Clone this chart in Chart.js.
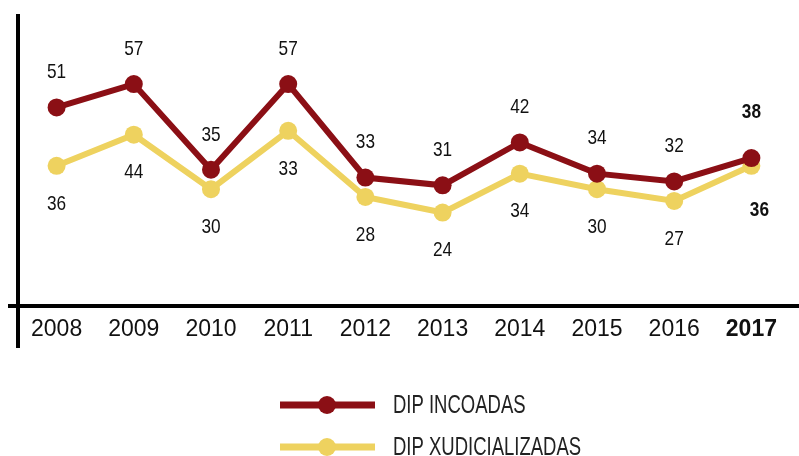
<!DOCTYPE html>
<html>
<head>
<meta charset="utf-8">
<script src="https://cdn.jsdelivr.net/npm/chart.js@4/dist/chart.umd.min.js"></script>
<style>
  html, body { margin: 0; padding: 0; background: #fff; }
  #wrap { width: 799px; height: 456px; position: relative; }
</style>
</head>
<body>
<div id="wrap"><canvas id="chart"></canvas></div>
<script>
  // datos
  var years = ['2008', '2009', '2010', '2011', '2012', '2013', '2014', '2015', '2016', '2017'];
  var incoadas = [51, 57, 35, 57, 33, 31, 42, 34, 32, 38];
  // o punto de 2011 está debuxado arredor de 45 aínda que a etiqueta diga 33
  var xudicializadas = [36, 44, 30, 45, 28, 24, 34, 30, 27, 36];
  var incoadasText = ['51', '57', '35', '57', '33', '31', '42', '34', '32', '38'];
  var xudicializadasText = ['36', '44', '30', '33', '28', '24', '34', '30', '27', '36'];
  var seriesNames = ['DIP INCOADAS', 'DIP XUDICIALIZADAS'];

  var RED = '#8B0F15';
  var YELLOW = '#EED25F';
  var SANS = "'Liberation Sans', Arial, sans-serif";

  // texto estreito: Liberation Sans comprimida en horizontal
  function narrowText(ctx, txt, x, y, font, squeeze) {
    ctx.save();
    ctx.font = font;
    ctx.translate(x, y);
    ctx.scale(squeeze, 1);
    ctx.fillText(txt, 0, 0);
    ctx.restore();
  }

  // etiquetas de valor enriba / embaixo dos puntos
  var valueLabels = {
    id: 'valueLabels',
    afterDatasetsDraw: function (chart) {
      var ctx = chart.ctx;
      var texts = [incoadasText, xudicializadasText];
      var offs = [-35, 38];
      ctx.save();
      ctx.fillStyle = '#111';
      ctx.textAlign = 'center';
      ctx.textBaseline = 'middle';
      chart.data.datasets.forEach(function (ds, di) {
        chart.getDatasetMeta(di).data.forEach(function (pt, i) {
          var last = i === years.length - 1;
          var font = (last ? 'bold ' : '') + '21px ' + SANS;
          var dy = last ? (di === 0 ? -46 : 44) : offs[di];
          var dx = last && di === 1 ? 8 : 0;
          narrowText(ctx, texts[di][i], pt.x + dx, pt.y + dy, font, 0.82);
        });
      });
      ctx.restore();
    }
  };

  // eixos negros e lenda debuxados a man
  var axesAndLegend = {
    id: 'axesAndLegend',
    afterDraw: function (chart) {
      var ctx = chart.ctx;
      var a = chart.chartArea;
      ctx.save();
      ctx.fillStyle = '#000';
      ctx.fillRect(a.left - 2, a.top, 4, a.bottom - a.top + 42);
      ctx.fillRect(a.left - 10, a.bottom - 2, chart.width - a.left + 10, 4);

      chart.data.datasets.forEach(function (ds, i) {
        var y = 405 + i * 42;
        ctx.strokeStyle = ds.borderColor;
        ctx.lineWidth = 7;
        ctx.beginPath();
        ctx.moveTo(280, y);
        ctx.lineTo(375, y);
        ctx.stroke();
        ctx.fillStyle = ds.borderColor;
        ctx.beginPath();
        ctx.arc(327, y, 9, 0, Math.PI * 2);
        ctx.fill();
        ctx.fillStyle = '#222';
        ctx.textAlign = 'left';
        ctx.textBaseline = 'middle';
        narrowText(ctx, ds.label, 393, y + 1, '25px ' + SANS, 0.74);
      });
      ctx.restore();
    }
  };

  new Chart(document.getElementById('chart'), {
    type: 'line',
    data: {
      labels: years,
      datasets: [{
        label: seriesNames[0],
        data: incoadas,
        borderColor: RED,
        backgroundColor: RED,
        borderWidth: 6,
        pointRadius: 9,
        pointBorderWidth: 0,
        pointBackgroundColor: RED,
        tension: 0
      }, {
        label: seriesNames[1],
        data: xudicializadas,
        borderColor: YELLOW,
        backgroundColor: YELLOW,
        borderWidth: 6,
        pointRadius: 9,
        pointBorderWidth: 0,
        pointBackgroundColor: YELLOW,
        tension: 0
      }]
    },
    options: {
      responsive: true,
      maintainAspectRatio: false,
      animation: false,
      layout: { padding: { left: 18, right: 8, top: 14, bottom: 0 } },
      plugins: {
        legend: { display: false },
        tooltip: { enabled: false }
      },
      scales: {
        x: {
          offset: true,
          grid: { display: false, drawTicks: false },
          border: { display: false },
          ticks: {
            padding: 10,
            color: '#111',
            maxRotation: 0,
            font: function (c) {
              return c.index === years.length - 1
                ? { family: SANS, size: 23, weight: 'bold' }
                : { family: SANS, size: 23 };
            }
          },
          afterFit: function (scale) { scale.height = 150; }
        },
        y: {
          display: false,
          min: 0,
          max: 75
        }
      }
    },
    plugins: [valueLabels, axesAndLegend]
  });
</script>
</body>
</html>
